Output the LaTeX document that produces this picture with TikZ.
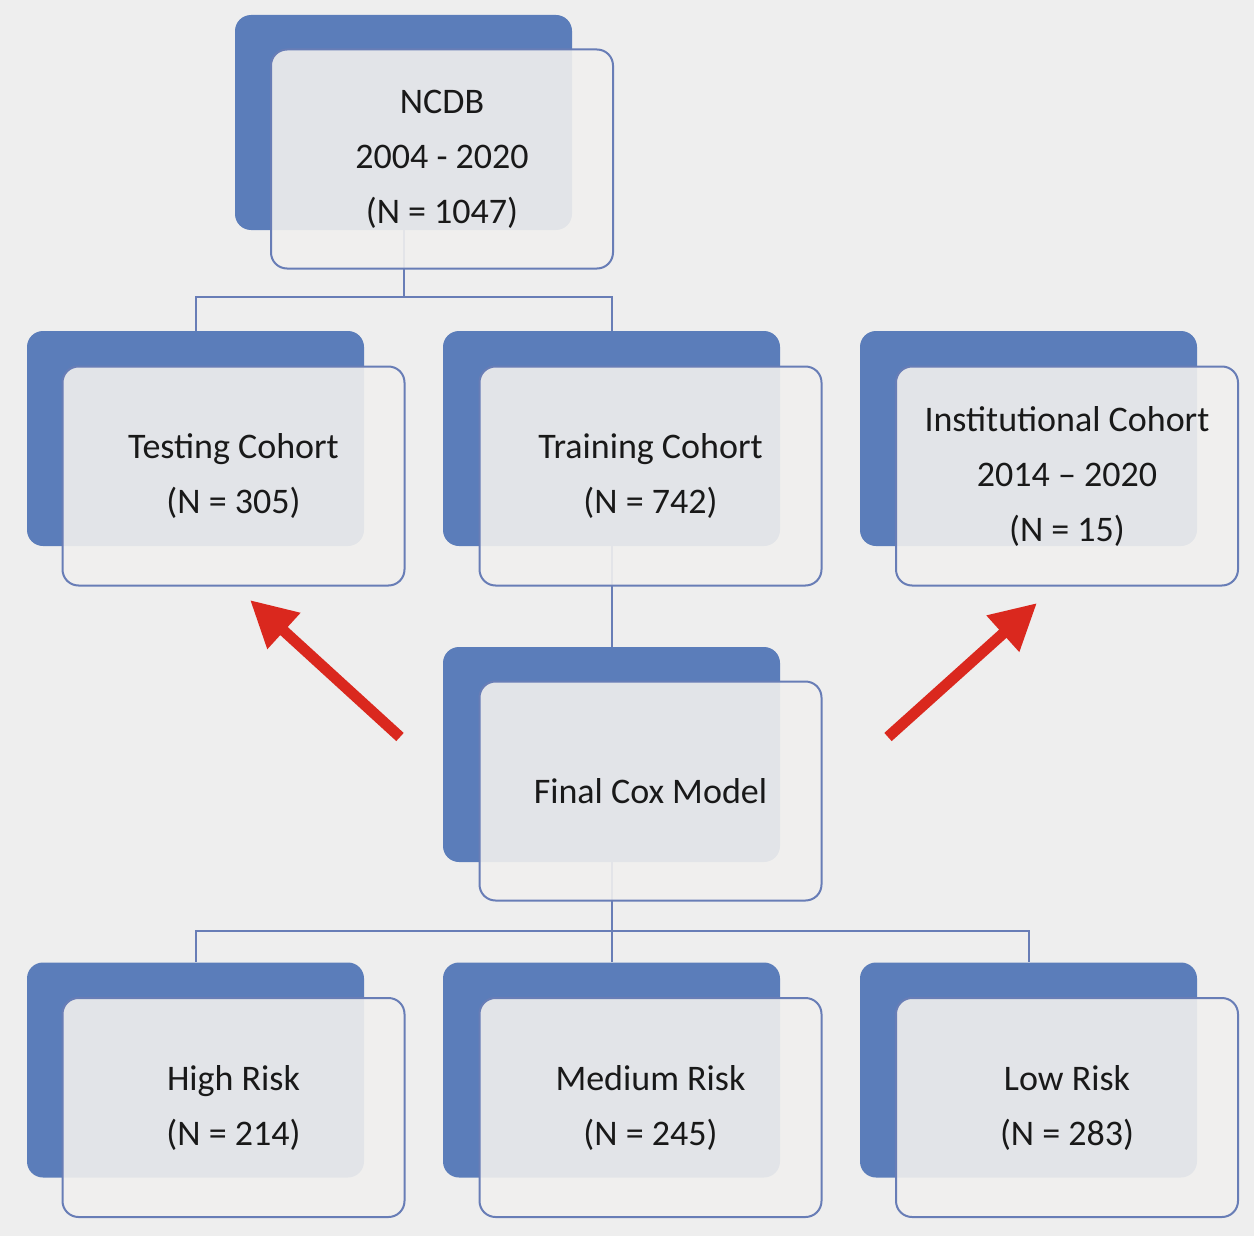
\documentclass[tikz,border=0pt]{standalone}
\usepackage{fontspec}
\setmainfont{Carlito}
\usetikzlibrary{arrows.meta,calc}
\definecolor{bgc}{RGB}{238,238,238}
\definecolor{boxblue}{RGB}{91,125,186}
\definecolor{frontfill}{RGB}{241,240,238}
\definecolor{edgeblue}{RGB}{104,125,182}
\definecolor{arrowred}{RGB}{218,40,30}
\tikzset{
  backbox/.style={fill=boxblue, draw=none, rounded corners=8pt, minimum width=168.5pt, minimum height=107.5pt, inner sep=0pt},
  frontbox/.style={fill=frontfill, fill opacity=0.9, text opacity=1, draw=edgeblue, line width=1pt, rounded corners=8pt, minimum width=171pt, minimum height=109.5pt, inner sep=0pt, align=center, font=\fontsize{18pt}{27.5pt}\selectfont, text=black!90},
  conn/.style={draw=edgeblue, line width=1pt},
  redarrow/.style={draw=arrowred, line width=5.5pt, -{Triangle[length=23pt,width=23pt]}, line cap=butt}
}
\begin{document}
\begin{tikzpicture}[x=0.5pt,y=-0.5pt]
\fill[bgc] (0,0) rectangle (1254,1236);
\useasboundingbox (0,0) rectangle (1254,1236);
% back boxes
\node[backbox] (ncdbB) at (403.5,122.5) {};
\node[backbox] (testB) at (195.5,438.5) {};
\node[backbox] (trainB) at (611.5,438.5) {};
\node[backbox] (instB) at (1028.5,438.5) {};
\node[backbox] (coxB) at (611.5,754.5) {};
\node[backbox] (highB) at (195.5,1070) {};
\node[backbox] (medB) at (611.5,1070) {};
\node[backbox] (lowB) at (1028.5,1070) {};
% connectors
\coordinate (j1) at ($(ncdbB.south)+(0,67)$);
\draw[conn] (ncdbB.south) -- (j1) -| (testB.north);
\draw[conn] (j1) -| (trainB.north);
\draw[conn] (trainB.south) -- (coxB.north);
\coordinate (j2) at ($(coxB.south)+(0,69)$);
\draw[conn] (coxB.south) -- (j2) -| (highB.north);
\draw[conn] (j2) -- (medB.north);
\draw[conn] (j2) -| (lowB.north);
% front boxes
\node[frontbox] (ncdb) at (442,159) {NCDB\\2004 - 2020\\(N = 1047)};
\node[frontbox] (test) at (233.5,476) {Testing Cohort\\(N = 305)};
\node[frontbox] (train) at (650.5,476) {Training Cohort\\(N = 742)};
\node[frontbox] (inst) at (1067,476) {Institutional Cohort\\2014 – 2020\\(N = 15)};
\node[frontbox] (cox) at (650.5,791) {Final Cox Model};
\node[frontbox] (high) at (233.5,1107.5) {High Risk\\(N = 214)};
\node[frontbox] (med) at (650.5,1107.5) {Medium Risk\\(N = 245)};
\node[frontbox] (low) at (1067,1107.5) {Low Risk\\(N = 283)};
% red arrows
\coordinate (la) at (400,737);
\coordinate (lt) at (250,600);
\coordinate (ra) at (888,737);
\coordinate (rt) at (1037,603);
\draw[redarrow] (la) -- (lt);
\draw[redarrow] (ra) -- (rt);
\end{tikzpicture}
\end{document}
